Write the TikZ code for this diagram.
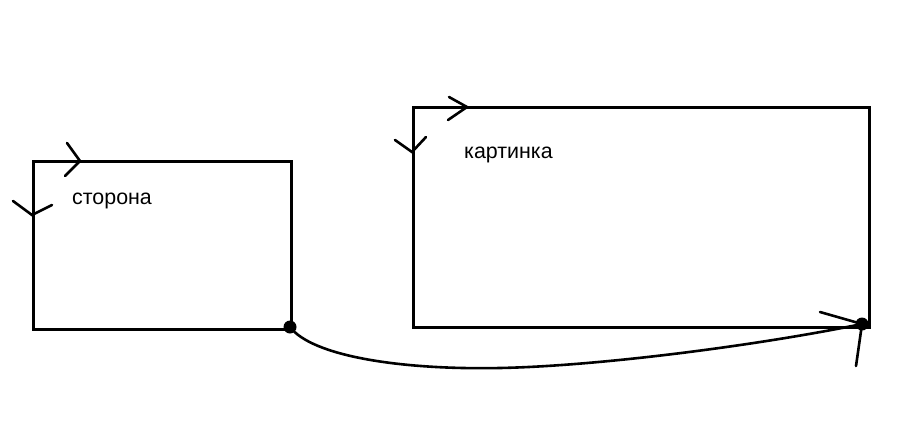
\documentclass[tikz,border=0pt]{standalone}
\usepackage{fontspec}
\setmainfont{Liberation Sans}
\usetikzlibrary{calc,positioning}

\tikzset{
  frame/.style={draw,line width=3pt,inner sep=0pt,anchor=north west},
  tick/.style={line width=2.6pt,line cap=round,line join=miter},
  corner/.style={circle,fill,inner sep=0pt,minimum size=13pt},
  label/.style={font=\fontsize{21.4}{24}\selectfont,anchor=west,inner sep=0pt}
}

\begin{document}
\begin{tikzpicture}[x=1pt,y=-1pt]
  \useasboundingbox (0,0) rectangle (907,428);
  % two boxes
  \node[frame,minimum width=258pt,minimum height=168pt] (side) at (32,160) {};
  \node[frame,minimum width=456pt,minimum height=220pt] (pic) at (412,106) {};
  \node[label] (sidetxt) at (72,201) {сторона};
  \node[label] (pictxt) at (464,155) {картинка};
  % direction marks
  \draw[tick] ($(side.north west)+(35,-17)$) -- ($(side.north west)+(48,1)$) -- ($(side.north west)+(33,16)$);
  \draw[tick] ($(side.north west)+(-19,41)$) -- ($(side.north west)+(0,55)$) -- ($(side.north west)+(20,45)$);
  \draw[tick] ($(pic.north west)+(37,-9)$) -- ($(pic.north west)+(55,1)$) -- ($(pic.north west)+(36,14)$);
  \draw[tick] ($(pic.north west)+(-17,34)$) -- ($(pic.north west)+(0,46)$) -- ($(pic.north west)+(14,31)$);
  % corners and the link
  \node[corner] (a) at (290,327) {};
  \node[corner] (b) at (862,324) {};
  \coordinate (mid) at (500,368);
  \draw[line width=2.6pt] (a.center) .. controls (312,356) and (400,370) .. (mid)
    .. controls (600,366) and (760,345) .. (b.center);
  \draw[tick] (b.center) -- (820,312);
  \draw[tick] (b.center) -- (856,366);
\end{tikzpicture}
\end{document}
